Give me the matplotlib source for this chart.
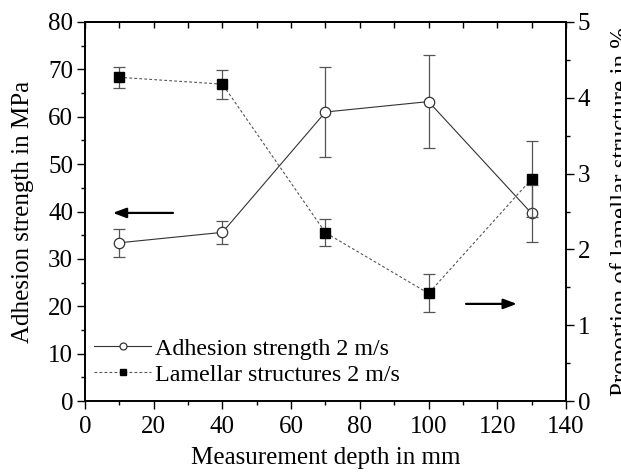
import numpy as np
import matplotlib.pyplot as plt
from matplotlib.ticker import MultipleLocator
from matplotlib.lines import Line2D

plt.rcParams['font.family'] = ['Liberation Serif', 'DejaVu Serif']
plt.rcParams['mathtext.fontset'] = 'stix'

# measurement depth in mm
depth = [10, 40, 70, 100, 130]

# adhesion strength (MPa), left axis
adhesion = [33.4, 35.6, 61.0, 63.2, 39.6]
adhesion_err = [2.9, 2.4, 9.5, 9.9, 6.0]

# proportion of lamellar structure (%), right axis
lamellar = [4.27, 4.18, 2.22, 1.42, 2.93]
lamellar_err = [0.14, 0.19, 0.18, 0.25, 0.5]

fig = plt.figure(figsize=(6.21, 4.73), dpi=100)
ax = fig.add_axes([0.1369, 0.1522, 0.7745, 0.8013])
ax2 = ax.twinx()

dash = (0, (2.5, 2))
ax.errorbar(depth, adhesion, yerr=adhesion_err, color='#333333', lw=0.8,
            marker='o', ms=7.5, mfc='white', mec='#333333', mew=0.9,
            ecolor='#555555', elinewidth=0.9, capsize=4, capthick=0.9)
ax2.errorbar(depth, lamellar, yerr=lamellar_err, color='#555555', lw=0.8,
             ls=dash, marker='s', ms=6.5, mfc='black', mec='black',
             ecolor='#555555', elinewidth=0.9, capsize=4, capthick=0.9)

ax.set_xlim(0, 140)
ax.set_ylim(0, 80)
ax2.set_ylim(0, 5)

ax.xaxis.set_major_locator(MultipleLocator(20))
ax.xaxis.set_minor_locator(MultipleLocator(10))
ax.yaxis.set_major_locator(MultipleLocator(10))
ax.yaxis.set_minor_locator(MultipleLocator(5))
ax2.yaxis.set_major_locator(MultipleLocator(1))
ax2.yaxis.set_minor_locator(MultipleLocator(0.5))

ax.tick_params(which='major', direction='out', length=5.5, width=1, labelsize=18, pad=3)
ax.tick_params(axis='x', which='major', pad=5)
ax.tick_params(which='minor', direction='out', length=3, width=1)
ax2.tick_params(which='major', direction='out', length=5.5, width=1, labelsize=18, pad=3)
ax2.tick_params(which='minor', direction='out', length=3, width=1)

top = ax.secondary_xaxis('top')
top.set_xticks(np.arange(0, 141, 10))
top.tick_params(direction='in', length=4, width=1, labeltop=False)

for s in ax.spines.values():
    s.set_linewidth(1.2)
for s in ax2.spines.values():
    s.set_linewidth(1.2)
top.spines['top'].set_linewidth(1.2)

ax.set_xlabel('Measurement depth in mm', fontsize=18, labelpad=7)
ax.set_ylabel('Adhesion strength in MPa', fontsize=18, labelpad=10)
ax2.set_ylabel('Proportion of lamellar structure in %', fontsize=18,
               rotation=90, labelpad=14)

# direction arrows
ax.annotate('', xy=(8.1, 39.7), xytext=(25.6, 39.7),
            arrowprops=dict(arrowstyle='-|>,head_length=0.8,head_width=0.3',
                            color='black', lw=1.6, shrinkA=0, shrinkB=0))
ax.annotate('', xy=(125.7, 20.5), xytext=(110.9, 20.5),
            arrowprops=dict(arrowstyle='-|>,head_length=0.8,head_width=0.3',
                            color='black', lw=1.6, shrinkA=0, shrinkB=0))

h1 = Line2D([], [], color='#333333', lw=0.8, marker='o', ms=5, mfc='white',
            mec='#333333', mew=0.9)
h2 = Line2D([], [], color='#555555', lw=0.8, ls=dash, marker='s', ms=4.5,
            mfc='black', mec='black')
ax2.legend([h1, h2], ['Adhesion strength 2 m/s', 'Lamellar structures 2 m/s'],
           loc='lower left', bbox_to_anchor=(0.018, 0.04), frameon=False,
           fontsize=17.3, handlelength=2.4, handletextpad=0.17,
           labelspacing=0.18, borderaxespad=0, borderpad=0)

fig.savefig('out.png', dpi=100)
